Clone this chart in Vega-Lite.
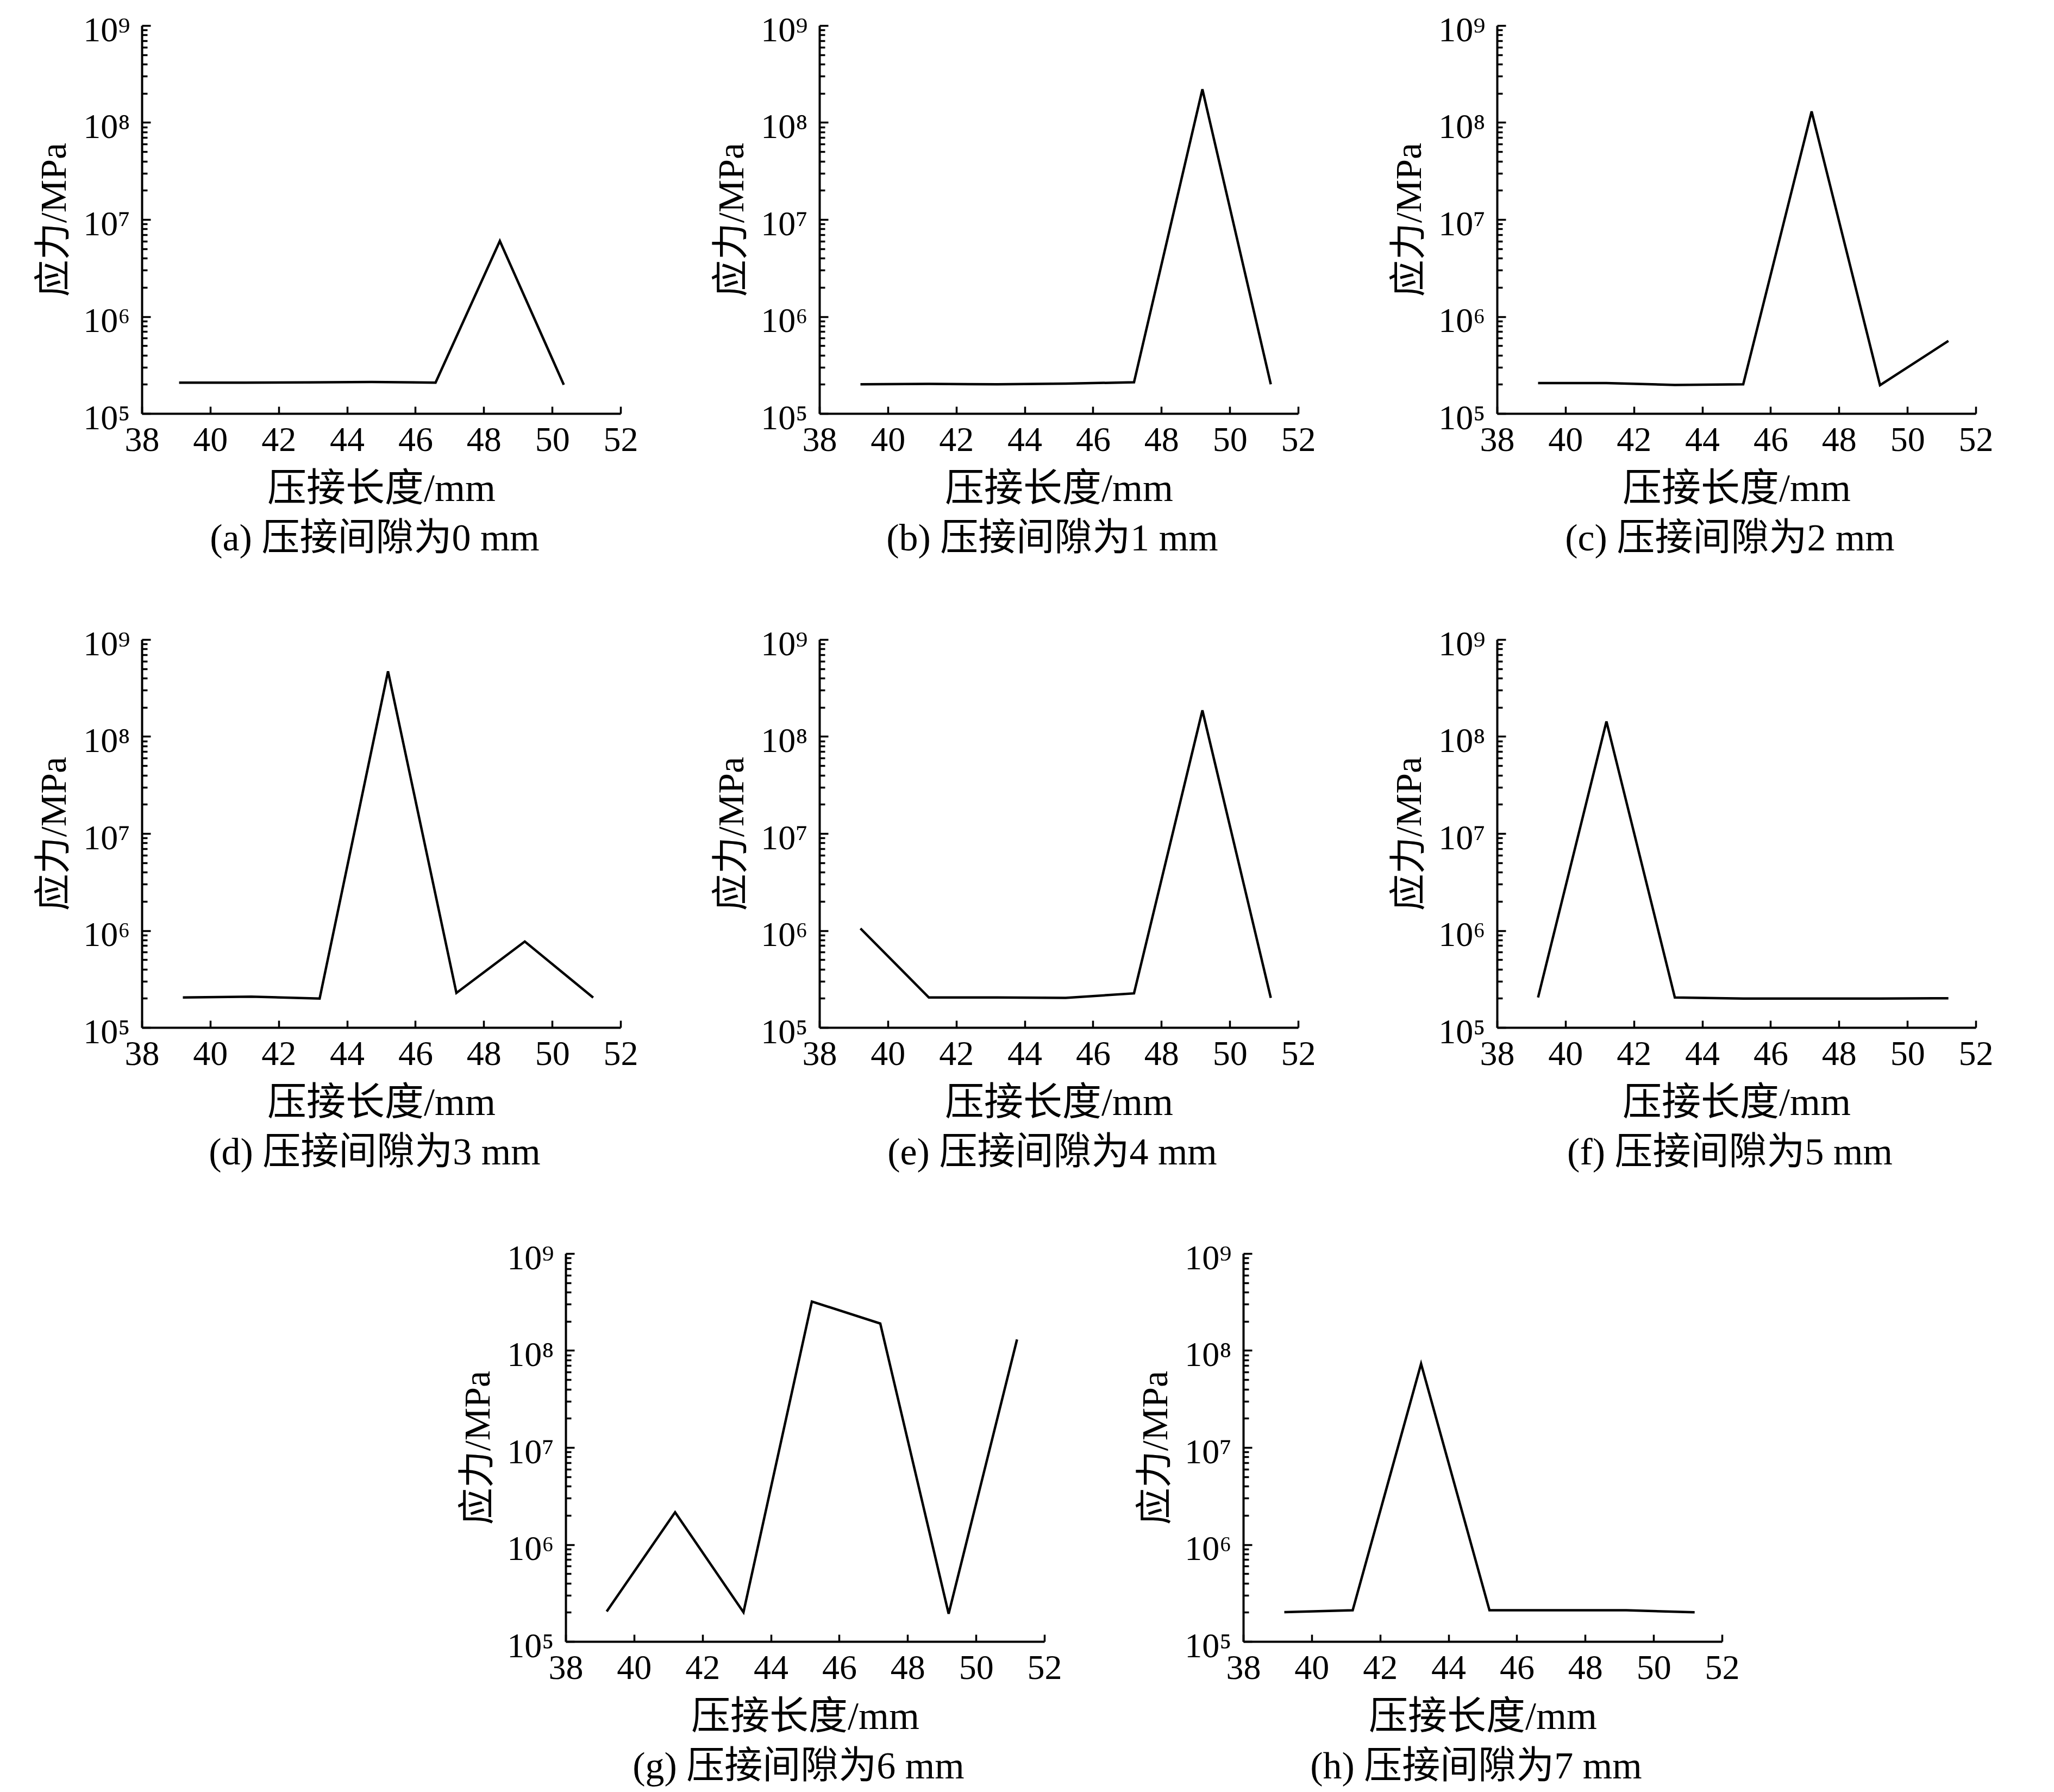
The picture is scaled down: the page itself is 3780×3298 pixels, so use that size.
{
  "$schema": "https://vega.github.io/schema/vega-lite/v6.json",
  "background": "white",
  "padding": {"left": 66, "top": 24, "right": 20, "bottom": 10},
  "datasets": {
    "stress": [
      {"panel": "a", "length": 39.09, "stress": 208000},
      {"panel": "a", "length": 40.97, "stress": 208000},
      {"panel": "a", "length": 42.84, "stress": 209000},
      {"panel": "a", "length": 44.72, "stress": 211000},
      {"panel": "a", "length": 46.59, "stress": 208000},
      {"panel": "a", "length": 48.47, "stress": 6000000},
      {"panel": "a", "length": 50.34, "stress": 198000},
      {"panel": "b", "length": 39.2, "stress": 200000},
      {"panel": "b", "length": 41.2, "stress": 202000},
      {"panel": "b", "length": 43.2, "stress": 200000},
      {"panel": "b", "length": 45.2, "stress": 203000},
      {"panel": "b", "length": 47.2, "stress": 210000},
      {"panel": "b", "length": 49.2, "stress": 220000000},
      {"panel": "b", "length": 51.2, "stress": 200000},
      {"panel": "c", "length": 39.2, "stress": 206000},
      {"panel": "c", "length": 41.2, "stress": 206000},
      {"panel": "c", "length": 43.2, "stress": 197000},
      {"panel": "c", "length": 45.2, "stress": 200000},
      {"panel": "c", "length": 47.2, "stress": 130000000},
      {"panel": "c", "length": 49.2, "stress": 196000},
      {"panel": "c", "length": 51.2, "stress": 560000},
      {"panel": "d", "length": 39.2, "stress": 204000},
      {"panel": "d", "length": 41.2, "stress": 208000},
      {"panel": "d", "length": 43.2, "stress": 199000},
      {"panel": "d", "length": 45.2, "stress": 470000000},
      {"panel": "d", "length": 47.2, "stress": 227000},
      {"panel": "d", "length": 49.2, "stress": 770000},
      {"panel": "d", "length": 51.2, "stress": 203000},
      {"panel": "e", "length": 39.2, "stress": 1050000},
      {"panel": "e", "length": 41.2, "stress": 204000},
      {"panel": "e", "length": 43.2, "stress": 204000},
      {"panel": "e", "length": 45.2, "stress": 202000},
      {"panel": "e", "length": 47.2, "stress": 225000},
      {"panel": "e", "length": 49.2, "stress": 186000000},
      {"panel": "e", "length": 51.2, "stress": 202000},
      {"panel": "f", "length": 39.2, "stress": 204000},
      {"panel": "f", "length": 41.2, "stress": 143000000},
      {"panel": "f", "length": 43.2, "stress": 204000},
      {"panel": "f", "length": 45.2, "stress": 199000},
      {"panel": "f", "length": 47.2, "stress": 199000},
      {"panel": "f", "length": 49.2, "stress": 199000},
      {"panel": "f", "length": 51.2, "stress": 200000},
      {"panel": "g", "length": 39.2, "stress": 204000},
      {"panel": "g", "length": 41.2, "stress": 2150000},
      {"panel": "g", "length": 43.2, "stress": 200000},
      {"panel": "g", "length": 45.2, "stress": 320000000},
      {"panel": "g", "length": 47.2, "stress": 190000000},
      {"panel": "g", "length": 49.2, "stress": 193000},
      {"panel": "g", "length": 51.2, "stress": 130000000},
      {"panel": "h", "length": 39.2, "stress": 201000},
      {"panel": "h", "length": 41.2, "stress": 210000},
      {"panel": "h", "length": 43.2, "stress": 73000000},
      {"panel": "h", "length": 45.2, "stress": 210000},
      {"panel": "h", "length": 47.2, "stress": 210000},
      {"panel": "h", "length": 49.2, "stress": 210000},
      {"panel": "h", "length": 51.2, "stress": 200000}
    ]
  },
  "data": {"name": "stress"},
  "bounds": "flush",
  "spacing": 1130,
  "vconcat": [
    {
      "bounds": "flush",
      "spacing": 366,
      "hconcat": [
        {
          "width": 881, "height": 714,
          "title": {"text": "(a) 压接间隙为0 mm", "orient": "bottom"},
          "transform": [{"filter": "datum.panel === 'a'"}],
          "mark": {"type": "line", "color": "black", "strokeWidth": 4.5},
          "encoding": {
            "x": {"field": "length", "type": "quantitative", "scale": {"domain": [38, 52], "nice": false, "zero": false},
                  "axis": {"title": "压接长度/mm", "values": [38, 40, 42, 44, 46, 48, 50, 52]}},
            "y": {"field": "stress", "type": "quantitative", "scale": {"type": "log", "domain": [100000, 1000000000], "nice": false},
                  "axis": {"title": "应力/MPa",
                           "values": [100000, 200000, 300000, 400000, 500000, 600000, 700000, 800000, 900000, 1000000, 2000000, 3000000, 4000000, 5000000, 6000000, 7000000, 8000000, 9000000, 10000000, 20000000, 30000000, 40000000, 50000000, 60000000, 70000000, 80000000, 90000000, 100000000, 200000000, 300000000, 400000000, 500000000, 600000000, 700000000, 800000000, 900000000, 1000000000],
                           "tickSize": {"condition": {"test": "abs(log(datum.value)/LN10 - round(log(datum.value)/LN10)) < 0.01", "value": -16}, "value": -10},
                           "labelExpr": "abs(log(datum.value)/LN10 - round(log(datum.value)/LN10)) < 0.01 ? '10' + ['⁵','⁶','⁷','⁸','⁹'][round(log(datum.value)/LN10) - 5] : ''"}}
          }
        },
        {
          "width": 881, "height": 714,
          "title": {"text": "(b) 压接间隙为1 mm", "orient": "bottom"},
          "transform": [{"filter": "datum.panel === 'b'"}],
          "mark": {"type": "line", "color": "black", "strokeWidth": 4.5},
          "encoding": {
            "x": {"field": "length", "type": "quantitative", "scale": {"domain": [38, 52], "nice": false, "zero": false},
                  "axis": {"title": "压接长度/mm", "values": [38, 40, 42, 44, 46, 48, 50, 52]}},
            "y": {"field": "stress", "type": "quantitative", "scale": {"type": "log", "domain": [100000, 1000000000], "nice": false},
                  "axis": {"title": "应力/MPa",
                           "values": [100000, 200000, 300000, 400000, 500000, 600000, 700000, 800000, 900000, 1000000, 2000000, 3000000, 4000000, 5000000, 6000000, 7000000, 8000000, 9000000, 10000000, 20000000, 30000000, 40000000, 50000000, 60000000, 70000000, 80000000, 90000000, 100000000, 200000000, 300000000, 400000000, 500000000, 600000000, 700000000, 800000000, 900000000, 1000000000],
                           "tickSize": {"condition": {"test": "abs(log(datum.value)/LN10 - round(log(datum.value)/LN10)) < 0.01", "value": -16}, "value": -10},
                           "labelExpr": "abs(log(datum.value)/LN10 - round(log(datum.value)/LN10)) < 0.01 ? '10' + ['⁵','⁶','⁷','⁸','⁹'][round(log(datum.value)/LN10) - 5] : ''"}}
          }
        },
        {
          "width": 881, "height": 714,
          "title": {"text": "(c) 压接间隙为2 mm", "orient": "bottom"},
          "transform": [{"filter": "datum.panel === 'c'"}],
          "mark": {"type": "line", "color": "black", "strokeWidth": 4.5},
          "encoding": {
            "x": {"field": "length", "type": "quantitative", "scale": {"domain": [38, 52], "nice": false, "zero": false},
                  "axis": {"title": "压接长度/mm", "values": [38, 40, 42, 44, 46, 48, 50, 52]}},
            "y": {"field": "stress", "type": "quantitative", "scale": {"type": "log", "domain": [100000, 1000000000], "nice": false},
                  "axis": {"title": "应力/MPa",
                           "values": [100000, 200000, 300000, 400000, 500000, 600000, 700000, 800000, 900000, 1000000, 2000000, 3000000, 4000000, 5000000, 6000000, 7000000, 8000000, 9000000, 10000000, 20000000, 30000000, 40000000, 50000000, 60000000, 70000000, 80000000, 90000000, 100000000, 200000000, 300000000, 400000000, 500000000, 600000000, 700000000, 800000000, 900000000, 1000000000],
                           "tickSize": {"condition": {"test": "abs(log(datum.value)/LN10 - round(log(datum.value)/LN10)) < 0.01", "value": -16}, "value": -10},
                           "labelExpr": "abs(log(datum.value)/LN10 - round(log(datum.value)/LN10)) < 0.01 ? '10' + ['⁵','⁶','⁷','⁸','⁹'][round(log(datum.value)/LN10) - 5] : ''"}}
          }
        }
      ]
    },
    {
      "bounds": "flush",
      "spacing": 366,
      "hconcat": [
        {
          "width": 881, "height": 714,
          "title": {"text": "(d) 压接间隙为3 mm", "orient": "bottom"},
          "transform": [{"filter": "datum.panel === 'd'"}],
          "mark": {"type": "line", "color": "black", "strokeWidth": 4.5},
          "encoding": {
            "x": {"field": "length", "type": "quantitative", "scale": {"domain": [38, 52], "nice": false, "zero": false},
                  "axis": {"title": "压接长度/mm", "values": [38, 40, 42, 44, 46, 48, 50, 52]}},
            "y": {"field": "stress", "type": "quantitative", "scale": {"type": "log", "domain": [100000, 1000000000], "nice": false},
                  "axis": {"title": "应力/MPa",
                           "values": [100000, 200000, 300000, 400000, 500000, 600000, 700000, 800000, 900000, 1000000, 2000000, 3000000, 4000000, 5000000, 6000000, 7000000, 8000000, 9000000, 10000000, 20000000, 30000000, 40000000, 50000000, 60000000, 70000000, 80000000, 90000000, 100000000, 200000000, 300000000, 400000000, 500000000, 600000000, 700000000, 800000000, 900000000, 1000000000],
                           "tickSize": {"condition": {"test": "abs(log(datum.value)/LN10 - round(log(datum.value)/LN10)) < 0.01", "value": -16}, "value": -10},
                           "labelExpr": "abs(log(datum.value)/LN10 - round(log(datum.value)/LN10)) < 0.01 ? '10' + ['⁵','⁶','⁷','⁸','⁹'][round(log(datum.value)/LN10) - 5] : ''"}}
          }
        },
        {
          "width": 881, "height": 714,
          "title": {"text": "(e) 压接间隙为4 mm", "orient": "bottom"},
          "transform": [{"filter": "datum.panel === 'e'"}],
          "mark": {"type": "line", "color": "black", "strokeWidth": 4.5},
          "encoding": {
            "x": {"field": "length", "type": "quantitative", "scale": {"domain": [38, 52], "nice": false, "zero": false},
                  "axis": {"title": "压接长度/mm", "values": [38, 40, 42, 44, 46, 48, 50, 52]}},
            "y": {"field": "stress", "type": "quantitative", "scale": {"type": "log", "domain": [100000, 1000000000], "nice": false},
                  "axis": {"title": "应力/MPa",
                           "values": [100000, 200000, 300000, 400000, 500000, 600000, 700000, 800000, 900000, 1000000, 2000000, 3000000, 4000000, 5000000, 6000000, 7000000, 8000000, 9000000, 10000000, 20000000, 30000000, 40000000, 50000000, 60000000, 70000000, 80000000, 90000000, 100000000, 200000000, 300000000, 400000000, 500000000, 600000000, 700000000, 800000000, 900000000, 1000000000],
                           "tickSize": {"condition": {"test": "abs(log(datum.value)/LN10 - round(log(datum.value)/LN10)) < 0.01", "value": -16}, "value": -10},
                           "labelExpr": "abs(log(datum.value)/LN10 - round(log(datum.value)/LN10)) < 0.01 ? '10' + ['⁵','⁶','⁷','⁸','⁹'][round(log(datum.value)/LN10) - 5] : ''"}}
          }
        },
        {
          "width": 881, "height": 714,
          "title": {"text": "(f) 压接间隙为5 mm", "orient": "bottom"},
          "transform": [{"filter": "datum.panel === 'f'"}],
          "mark": {"type": "line", "color": "black", "strokeWidth": 4.5},
          "encoding": {
            "x": {"field": "length", "type": "quantitative", "scale": {"domain": [38, 52], "nice": false, "zero": false},
                  "axis": {"title": "压接长度/mm", "values": [38, 40, 42, 44, 46, 48, 50, 52]}},
            "y": {"field": "stress", "type": "quantitative", "scale": {"type": "log", "domain": [100000, 1000000000], "nice": false},
                  "axis": {"title": "应力/MPa",
                           "values": [100000, 200000, 300000, 400000, 500000, 600000, 700000, 800000, 900000, 1000000, 2000000, 3000000, 4000000, 5000000, 6000000, 7000000, 8000000, 9000000, 10000000, 20000000, 30000000, 40000000, 50000000, 60000000, 70000000, 80000000, 90000000, 100000000, 200000000, 300000000, 400000000, 500000000, 600000000, 700000000, 800000000, 900000000, 1000000000],
                           "tickSize": {"condition": {"test": "abs(log(datum.value)/LN10 - round(log(datum.value)/LN10)) < 0.01", "value": -16}, "value": -10},
                           "labelExpr": "abs(log(datum.value)/LN10 - round(log(datum.value)/LN10)) < 0.01 ? '10' + ['⁵','⁶','⁷','⁸','⁹'][round(log(datum.value)/LN10) - 5] : ''"}}
          }
        }
      ]
    },
    {
      "bounds": "flush",
      "spacing": 366,
      "hconcat": [
        {
          "width": 414, "height": 714,
          "data": {"values": [{"k": 1}]},
          "mark": {"type": "point", "opacity": 0},
          "encoding": {}
        },
        {
          "width": 881, "height": 714,
          "title": {"text": "(g) 压接间隙为6 mm", "orient": "bottom"},
          "transform": [{"filter": "datum.panel === 'g'"}],
          "mark": {"type": "line", "color": "black", "strokeWidth": 4.5},
          "encoding": {
            "x": {"field": "length", "type": "quantitative", "scale": {"domain": [38, 52], "nice": false, "zero": false},
                  "axis": {"title": "压接长度/mm", "values": [38, 40, 42, 44, 46, 48, 50, 52]}},
            "y": {"field": "stress", "type": "quantitative", "scale": {"type": "log", "domain": [100000, 1000000000], "nice": false},
                  "axis": {"title": "应力/MPa",
                           "values": [100000, 200000, 300000, 400000, 500000, 600000, 700000, 800000, 900000, 1000000, 2000000, 3000000, 4000000, 5000000, 6000000, 7000000, 8000000, 9000000, 10000000, 20000000, 30000000, 40000000, 50000000, 60000000, 70000000, 80000000, 90000000, 100000000, 200000000, 300000000, 400000000, 500000000, 600000000, 700000000, 800000000, 900000000, 1000000000],
                           "tickSize": {"condition": {"test": "abs(log(datum.value)/LN10 - round(log(datum.value)/LN10)) < 0.01", "value": -16}, "value": -10},
                           "labelExpr": "abs(log(datum.value)/LN10 - round(log(datum.value)/LN10)) < 0.01 ? '10' + ['⁵','⁶','⁷','⁸','⁹'][round(log(datum.value)/LN10) - 5] : ''"}}
          }
        },
        {
          "width": 881, "height": 714,
          "title": {"text": "(h) 压接间隙为7 mm", "orient": "bottom"},
          "transform": [{"filter": "datum.panel === 'h'"}],
          "mark": {"type": "line", "color": "black", "strokeWidth": 4.5},
          "encoding": {
            "x": {"field": "length", "type": "quantitative", "scale": {"domain": [38, 52], "nice": false, "zero": false},
                  "axis": {"title": "压接长度/mm", "values": [38, 40, 42, 44, 46, 48, 50, 52]}},
            "y": {"field": "stress", "type": "quantitative", "scale": {"type": "log", "domain": [100000, 1000000000], "nice": false},
                  "axis": {"title": "应力/MPa",
                           "values": [100000, 200000, 300000, 400000, 500000, 600000, 700000, 800000, 900000, 1000000, 2000000, 3000000, 4000000, 5000000, 6000000, 7000000, 8000000, 9000000, 10000000, 20000000, 30000000, 40000000, 50000000, 60000000, 70000000, 80000000, 90000000, 100000000, 200000000, 300000000, 400000000, 500000000, 600000000, 700000000, 800000000, 900000000, 1000000000],
                           "tickSize": {"condition": {"test": "abs(log(datum.value)/LN10 - round(log(datum.value)/LN10)) < 0.01", "value": -16}, "value": -10},
                           "labelExpr": "abs(log(datum.value)/LN10 - round(log(datum.value)/LN10)) < 0.01 ? '10' + ['⁵','⁶','⁷','⁸','⁹'][round(log(datum.value)/LN10) - 5] : ''"}}
          }
        }
      ]
    }
  ],
  "config": {
    "font": "Liberation Serif, Noto Sans CJK SC",
    "view": {"stroke": null},
    "axis": {
      "grid": false,
      "domainColor": "black",
      "domainWidth": 4,
      "tickColor": "black",
      "tickWidth": 3.5,
      "labelColor": "black",
      "titleColor": "black",
      "labelFont": "Liberation Serif, Noto Sans CJK SC",
      "titleFont": "Liberation Serif, Noto Sans CJK SC",
      "labelFontSize": 64,
      "titleFontSize": 72,
      "titleFontWeight": "normal",
      "labelFontWeight": "normal"
    },
    "axisX": {"tickSize": -13, "labelPadding": 30, "titlePadding": 22, "labelFlush": false, "labelAngle": 0, "labelOverlap": false},
    "axisY": {"labelPadding": 38, "labelOffset": 9, "titlePadding": 18, "titleFontSize": 68, "labelOverlap": false, "labelBound": false},
    "title": {
      "font": "Liberation Serif, Noto Sans CJK SC",
      "fontSize": 70,
      "fontWeight": "normal",
      "color": "black",
      "offset": 23,
      "dx": -12,
      "frame": "group",
      "anchor": "middle"
    }
  }
}
